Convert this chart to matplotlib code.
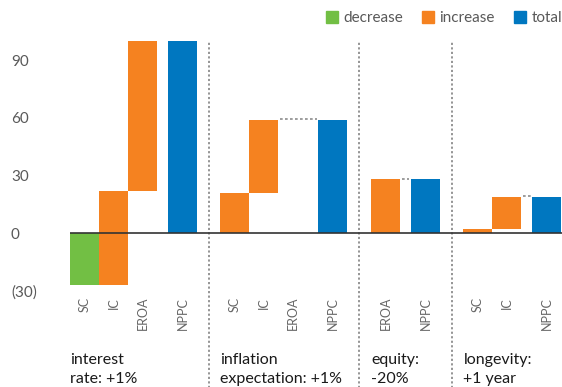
import matplotlib.pyplot as plt
from matplotlib.patches import Patch

plt.rcParams['font.family'] = ['Lato', 'DejaVu Sans']

GREEN = '#72bf44'
ORANGE = '#f58220'
BLUE = '#0077c0'

# sensitivity scenarios, each a list of steps followed by a total
groups = ["interest\nrate: +1%", "inflation\nexpectation: +1%",
          "equity:\n-20%", "longevity:\n+1 year"]
step_names = [["SC", "IC", "EROA"], ["SC", "IC", "EROA"], ["EROA"], ["SC", "IC"]]
step_values = [[-27, 49, 78], [21, 38, 0], [28], [2, 17]]
total_name = "NPPC"

STEP = 1.0       # spacing between adjacent step bars
TOTAL_GAP = 1.38  # step bar -> total bar
GROUP_GAP = 1.81  # total bar -> next group


def plot():
    fig = plt.figure(figsize=(5.62, 3.87), dpi=100)
    ax = fig.add_axes([70 / 562, (387 - 290.6) / 387, 492 / 562, 249.6 / 387])

    ticks, tick_labels, dividers = [], [], []
    x = 0.0
    for gi, (name, names, values) in enumerate(zip(groups, step_names, step_values)):
        if gi > 0:
            dividers.append(x - GROUP_GAP / 2)
        start_x = x
        level = 0
        last_edge = None
        for i, (n, v) in enumerate(zip(names, values)):
            if i > 0:
                x += STEP
            color = GREEN if v < 0 else ORANGE
            ax.bar(x, v, bottom=level, width=1.0, color=color, zorder=2)
            level += v
            ticks.append(x)
            tick_labels.append(n)
            if v != 0:
                last_edge = x + 0.5
        x += TOTAL_GAP
        ax.bar(x, level, width=1.0, color=BLUE, zorder=2)
        ticks.append(x)
        tick_labels.append(total_name)
        # dotted link from the last step to the total
        ax.plot([last_edge + 0.06, x - 0.56], [level + 0.3, level + 0.3],
                color='#8c8c8c', lw=1.2, ls=(0, (1.6, 1.4)), zorder=1)
        ax.text(start_x - 0.5, -0.25, name, transform=ax.get_xaxis_transform(),
                ha='left', va='top', fontsize=11.5, color='#1a1a1a',
                linespacing=1.45)
        x += GROUP_GAP

    for d in dividers:
        ax.axvline(d, ymin=-0.4, ymax=0.996, clip_on=False, color='#8c8c8c',
                   lw=1.3, ls=(0, (1.2, 1.3)), zorder=1)

    ax.axhline(0, color='#333333', lw=1.2, zorder=3)

    ax.set_xlim(-0.5, 16.47)
    ax.set_ylim(-30, 100)
    ax.set_yticks([-30, 0, 30, 60, 90], ['(30)', '0', '30', '60', '90'])
    ax.set_xticks(ticks, tick_labels, rotation=90)
    ax.tick_params(axis='y', length=0, pad=42.5, labelsize=11, labelcolor='#595959')
    ax.tick_params(axis='x', length=0, pad=4.6, labelsize=9, labelcolor='#666666')
    for lab in ax.get_yticklabels():
        lab.set_horizontalalignment('left')
    for s in ax.spines.values():
        s.set_visible(False)

    handles = [Patch(color=GREEN), Patch(color=ORANGE), Patch(color=BLUE)]
    fig.legend(handles, ['decrease', 'increase', 'total'], loc='upper right',
               bbox_to_anchor=(1.003, 0.975), ncol=3, frameon=False, fontsize=11,
               labelcolor='#595959', handlelength=0.8, handleheight=0.8,
               handletextpad=0.35, columnspacing=1.25, borderpad=0.1,
               borderaxespad=0)

    fig.savefig('out.png', dpi=100)


if __name__ == "__main__":
    plot()
